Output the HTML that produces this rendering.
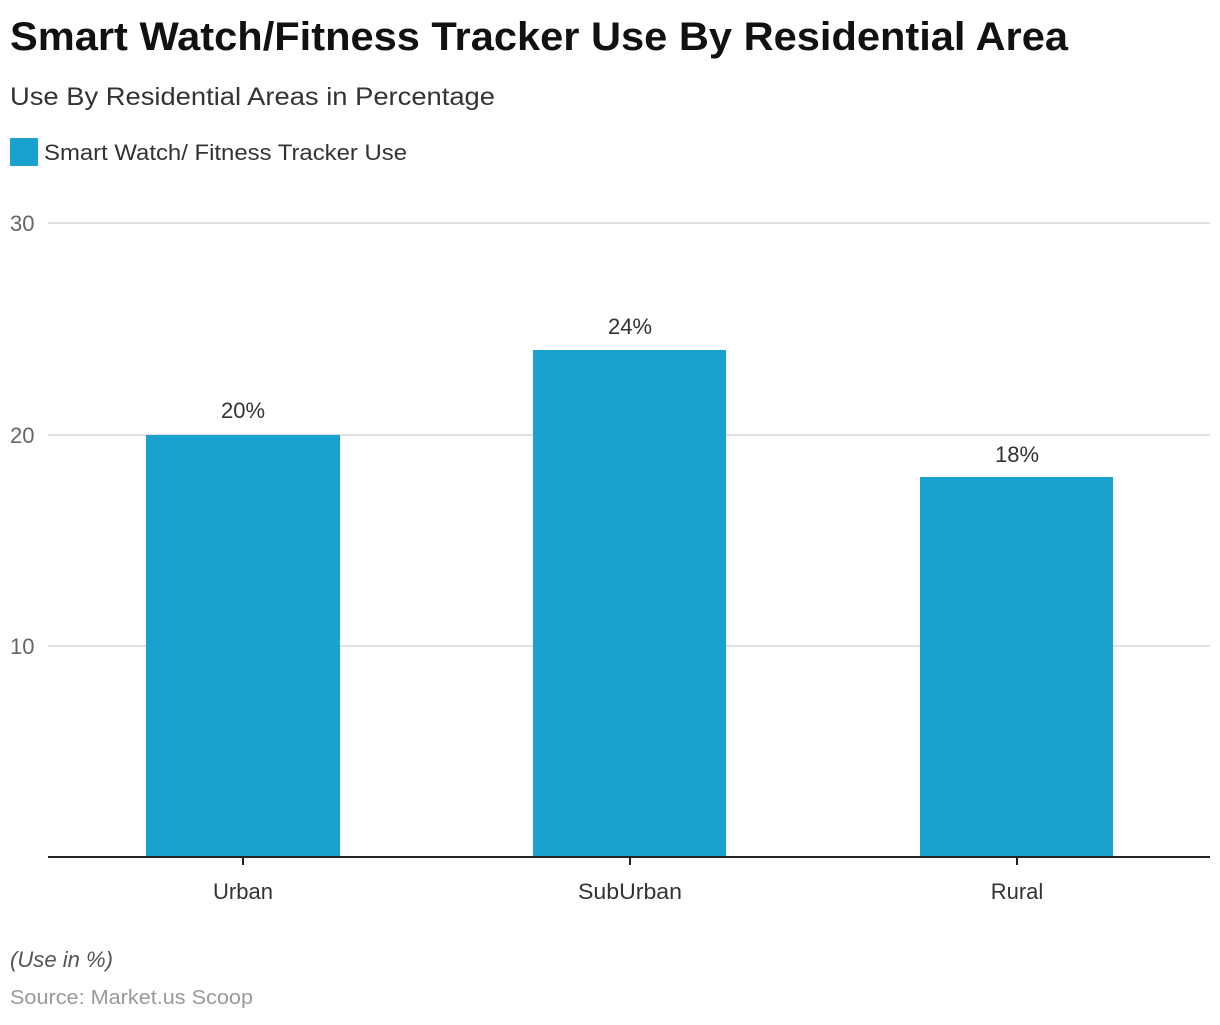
<!DOCTYPE html>
<html><head><meta charset="utf-8"><style>
body{margin:0;background:#fff;width:1220px;height:1020px;overflow:hidden;font-family:"Liberation Sans",Arial,sans-serif}
</style></head><body>
<svg width="1220" height="1020" xmlns="http://www.w3.org/2000/svg" font-family="Liberation Sans, Arial, sans-serif">
<text x="10" y="50" font-size="40" font-weight="bold" fill="#111" textLength="1058" lengthAdjust="spacingAndGlyphs">Smart Watch/Fitness Tracker Use By Residential Area</text>
<text x="10" y="105" font-size="25" fill="#333" textLength="485" lengthAdjust="spacingAndGlyphs">Use By Residential Areas in Percentage</text>
<rect x="10" y="138" width="28" height="28" fill="#1aa1ce"/>
<text x="44" y="160" font-size="22" fill="#333" textLength="363" lengthAdjust="spacingAndGlyphs">Smart Watch/ Fitness Tracker Use</text>
<g stroke="#d6d6d6" stroke-width="1.5">
<line x1="48" y1="223" x2="1210" y2="223"/>
<line x1="48" y1="435" x2="1210" y2="435"/>
<line x1="48" y1="646" x2="1210" y2="646"/>
</g>
<g font-size="22" fill="#666">
<text x="10" y="231">30</text><text x="10" y="443">20</text><text x="10" y="654">10</text>
</g>
<g fill="#1aa1ce">
<rect x="146" y="435" width="194" height="422"/>
<rect x="533" y="350" width="193" height="507"/>
<rect x="920" y="477" width="193" height="380"/>
</g>
<line x1="48" y1="857" x2="1210" y2="857" stroke="#222" stroke-width="2"/>
<g stroke="#222" stroke-width="2"><line x1="243" y1="857" x2="243" y2="865"/><line x1="630" y1="857" x2="630" y2="865"/><line x1="1017" y1="857" x2="1017" y2="865"/></g>
<g font-size="22" fill="#333" text-anchor="middle">
<text x="243" y="418">20%</text><text x="630" y="334">24%</text><text x="1017" y="462">18%</text>
<text x="243" y="899">Urban</text><text x="630" y="899" textLength="104" lengthAdjust="spacingAndGlyphs">SubUrban</text><text x="1017" y="899">Rural</text>
</g>
<text x="10" y="967" font-size="22" font-style="italic" fill="#555" textLength="103" lengthAdjust="spacingAndGlyphs">(Use in %)</text>
<text x="10" y="1004" font-size="20" fill="#999" textLength="243" lengthAdjust="spacingAndGlyphs">Source: Market.us Scoop</text>
</svg>
</body></html>
